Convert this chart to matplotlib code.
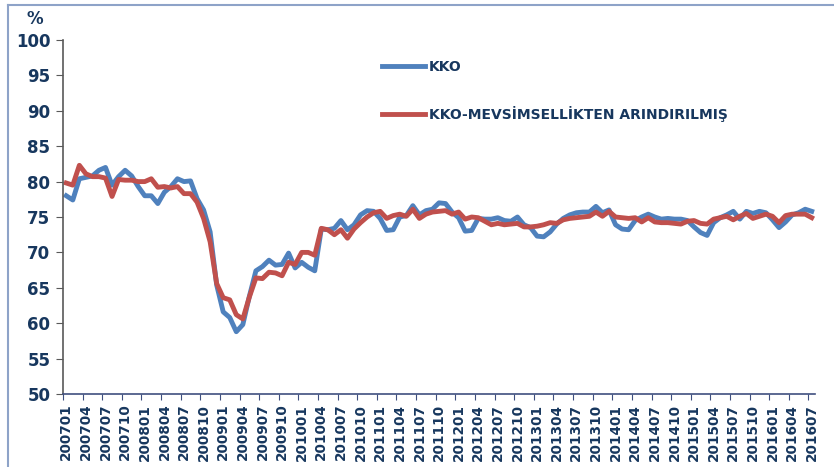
import matplotlib
matplotlib.use("Agg")
import matplotlib.pyplot as plt
import matplotlib.transforms as mtransforms
from matplotlib.lines import Line2D

# monthly periods 200701 .. 201607
periods = [f"{y}{m:02d}" for y in range(2007, 2017) for m in range(1, 13)]
periods = periods[:periods.index("201607") + 1]

kko = [78.0, 77.4, 80.4, 80.6, 80.8, 81.6, 82.0, 79.5, 80.7, 81.6, 80.8, 79.3,
       78.0, 78.0, 76.9, 78.5, 79.3, 80.4, 80.0, 80.1, 77.6, 76.0, 72.9, 65.4,
       61.6, 60.8, 58.8, 59.8, 63.8, 67.4, 68.0, 68.9, 68.2, 68.3, 69.9, 67.8,
       68.6, 67.9, 67.4, 73.3, 73.2, 73.4, 74.5, 73.2, 73.9, 75.3, 75.9, 75.8,
       74.8, 73.1, 73.2, 75.0, 75.2, 76.6, 75.3, 75.9, 76.1, 77.0, 76.9, 75.7,
       74.9, 73.0, 73.1, 74.8, 74.7, 74.7, 74.9, 74.5, 74.4, 75.0, 73.9, 73.5,
       72.3, 72.2, 72.9, 74.0, 74.8, 75.3, 75.6, 75.7, 75.7, 76.5, 75.6, 76.0,
       73.9, 73.3, 73.2, 74.5, 75.0, 75.4, 75.0, 74.7, 74.8, 74.7, 74.7, 74.5,
       73.6, 72.8, 72.4, 74.2, 74.9, 75.3, 75.8, 74.7, 75.8, 75.5, 75.8, 75.6,
       74.6, 73.5, 74.3, 75.3, 75.6, 76.1, 75.8]

kko_sa = [79.8, 79.5, 82.3, 81.1, 80.7, 80.7, 80.5, 77.9, 80.3, 80.2, 80.2, 80.0,
          80.0, 80.4, 79.2, 79.3, 79.1, 79.3, 78.3, 78.3, 77.1, 74.8, 71.5, 65.6,
          63.6, 63.3, 61.2, 60.6, 63.7, 66.4, 66.3, 67.2, 67.1, 66.7, 68.6, 68.3,
          70.0, 70.0, 69.6, 73.4, 73.2, 72.5, 73.2, 72.0, 73.3, 74.2, 75.0, 75.6,
          75.8, 74.8, 75.2, 75.4, 75.1, 76.1, 74.8, 75.4, 75.7, 75.8, 75.9, 75.4,
          75.7, 74.7, 75.0, 74.9, 74.4, 73.9, 74.1, 73.9, 74.0, 74.1, 73.6, 73.6,
          73.7, 73.9, 74.2, 74.1, 74.6, 74.8, 74.9, 75.0, 75.1, 75.7, 75.1, 75.8,
          75.0, 74.9, 74.8, 74.9, 74.3, 74.9, 74.3, 74.2, 74.2, 74.1, 74.0, 74.4,
          74.5, 74.1, 74.0, 74.7, 74.9, 75.1, 74.6, 75.1, 75.5, 74.8, 75.1, 75.4,
          75.1, 74.2, 75.2, 75.4, 75.4, 75.4, 74.9]

navy = "#17375E"
blue = "#4F81BD"
red = "#C0504D"

fig = plt.figure(figsize=(8.34, 4.67), dpi=100)
ax = fig.add_axes([63 / 834, 1 - 394 / 467, (815 - 63) / 834, (394 - 40) / 467])

x = list(range(len(periods)))
ax.plot(x, kko, color=blue, lw=3.5, solid_joinstyle="round", label="KKO")
ax.plot(x, kko_sa, color=red, lw=3.5, solid_joinstyle="round",
        label="KKO-MEVSİMSELLİKTEN ARINDIRILMIŞ")

# category axis, data between tick marks
ax.set_xlim(-0.5, len(periods) - 0.5)
ax.set_ylim(50, 100)
ax.set_yticks(range(50, 101, 5))
ax.set_xticks([i - 0.5 for i in x[::3]])
ax.set_xticklabels(periods[::3], rotation=90, fontsize=9.8, fontweight="bold",
                   color=navy, ha="center")
ax.tick_params(axis="x", length=4, color="#3F4F7F", pad=3)
ax.tick_params(axis="y", length=5, color="#595959", labelsize=12,
               labelcolor=navy, pad=4)
for lab in ax.get_yticklabels():
    lab.set_fontweight("bold")
# labels sit in the middle of the first month of each quarter
offset = mtransforms.ScaledTranslation(3.3 / 100, 0, fig.dpi_scale_trans)
for lab in ax.get_xticklabels():
    lab.set_transform(lab.get_transform() + offset)

for s in ["top", "right"]:
    ax.spines[s].set_visible(False)
ax.spines["left"].set_color("#595959")
ax.spines["left"].set_linewidth(1.2)
ax.spines["bottom"].set_color("#3F4F7F")
ax.spines["bottom"].set_linewidth(1.2)

fig.text(35 / 834, 1 - 19 / 467, "%", fontsize=12, fontweight="bold",
         color=navy, ha="center", va="center")

leg = ax.legend(loc="upper left", bbox_to_anchor=(382 / 834, 1 - 60 / 467),
                bbox_transform=fig.transFigure, frameon=False,
                handlelength=3.1, handletextpad=0.3, labelspacing=2.3,
                borderpad=0, borderaxespad=0,
                prop={"weight": "bold", "size": 10})
for t in leg.get_texts():
    t.set_color(navy)

# outer frame of the chart object
fig.add_artist(Line2D([8 / 834, 1], [1 - 5 / 467, 1 - 5 / 467],
                      color="#8EA3C8", lw=1.5, transform=fig.transFigure))
fig.add_artist(Line2D([8 / 834, 8 / 834], [0, 1 - 5 / 467],
                      color="#8EA3C8", lw=1.5, transform=fig.transFigure))

fig.savefig("out.png", dpi=100)
